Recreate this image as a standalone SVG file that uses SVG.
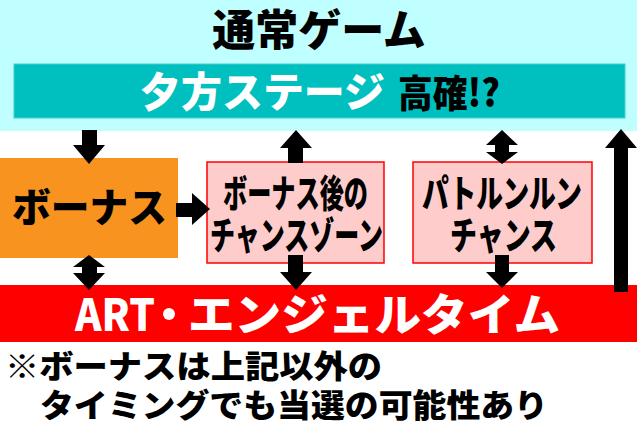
<svg xmlns="http://www.w3.org/2000/svg" width="640" height="434" viewBox="0 0 640 434">
<style>
.t{font-family:"Noto Sans CJK JP","Noto Sans",sans-serif;font-weight:900;}
.blk{fill:#000;}
.wht{fill:#fff;}
.pink{fill:#FFCCCC;stroke:#FF0000;stroke-width:1.5;}
.arr{fill:#000;}
</style>
<g id="normal-game">
<rect x="0" y="0" width="637" height="131" fill="#C0FFFF"/>
<text class="t blk" x="319" y="46" font-size="43" text-anchor="middle">通常ゲーム</text>
</g>
<g id="evening-stage">
<rect x="14" y="64" width="611" height="54" fill="#00BFBF" stroke="#40D0D0" stroke-width="1"/>
<text class="t wht" x="140" y="107" font-size="41" textLength="245" lengthAdjust="spacingAndGlyphs">夕方ステージ</text>
<text class="t blk" x="398" y="107" font-size="38" textLength="102" lengthAdjust="spacingAndGlyphs">高確!?</text>
</g>
<g id="bonus">
<rect x="0" y="158" width="178" height="100" fill="#F7931E"/>
<text class="t blk" x="12" y="222" font-size="40" textLength="155" lengthAdjust="spacingAndGlyphs">ボーナス</text>
</g>
<g id="after-bonus-chance-zone">
<rect class="pink" x="207" y="162" width="177" height="101"/>
<text class="t blk" x="223" y="207" font-size="38" textLength="145" lengthAdjust="spacingAndGlyphs">ボーナス後の</text>
<text class="t blk" x="210" y="249" font-size="38" textLength="173" lengthAdjust="spacingAndGlyphs">チャンスゾーン</text>
</g>
<g id="patorunrun-chance">
<rect class="pink" x="413" y="162" width="179" height="101"/>
<text class="t blk" x="422" y="207" font-size="38" textLength="160" lengthAdjust="spacingAndGlyphs">パトルンルン</text>
<text class="t blk" x="450" y="249" font-size="38" textLength="107" lengthAdjust="spacingAndGlyphs">チャンス</text>
</g>
<g id="art-angel-time">
<rect x="0" y="285" width="637" height="57" fill="#FF0000"/>
<text class="t wht" x="75" y="331" font-size="44" textLength="80" lengthAdjust="spacingAndGlyphs">ART</text>
<circle cx="169" cy="314" r="6" fill="#fff"/>
<text class="t wht" x="188" y="331" font-size="44" textLength="372" lengthAdjust="spacingAndGlyphs">エンジェルタイム</text>
</g>
<g id="connectors">
<polygon class="arr" points="82,130 97,130 97,145 105,145 89,164 73,145 82,145"/>
<polygon class="arr" points="176,203 192,203 192,193 210,209 192,225 192,217 176,217"/>
<polygon class="arr" points="89,255 105,267 97,267 97,273 105,273 89,290 73,273 82,273 82,267 73,267"/>
<polygon class="arr" points="296,130 312,148 303,148 303,163 288,163 288,148 280,148"/>
<polygon class="arr" points="288,255 303,255 303,272 312,272 296,290 280,272 288,272"/>
<polygon class="arr" points="502,130 518,145 509,145 509,152 518,152 502,164 486,152 495,152 495,145 486,145"/>
<polygon class="arr" points="495,255 509,255 509,272 518,272 502,288 486,272 495,272"/>
<polygon class="arr" points="621,129 637,148 628,148 628,292 614,292 614,148 605,148"/>
</g>
<g id="note">
<text class="t blk" x="5" y="378" font-size="32" textLength="377" lengthAdjust="spacingAndGlyphs">※ボーナスは上記以外の</text>
<text class="t blk" x="40" y="417" font-size="32" textLength="508" lengthAdjust="spacingAndGlyphs">タイミングでも当選の可能性あり</text>
</g>
</svg>
